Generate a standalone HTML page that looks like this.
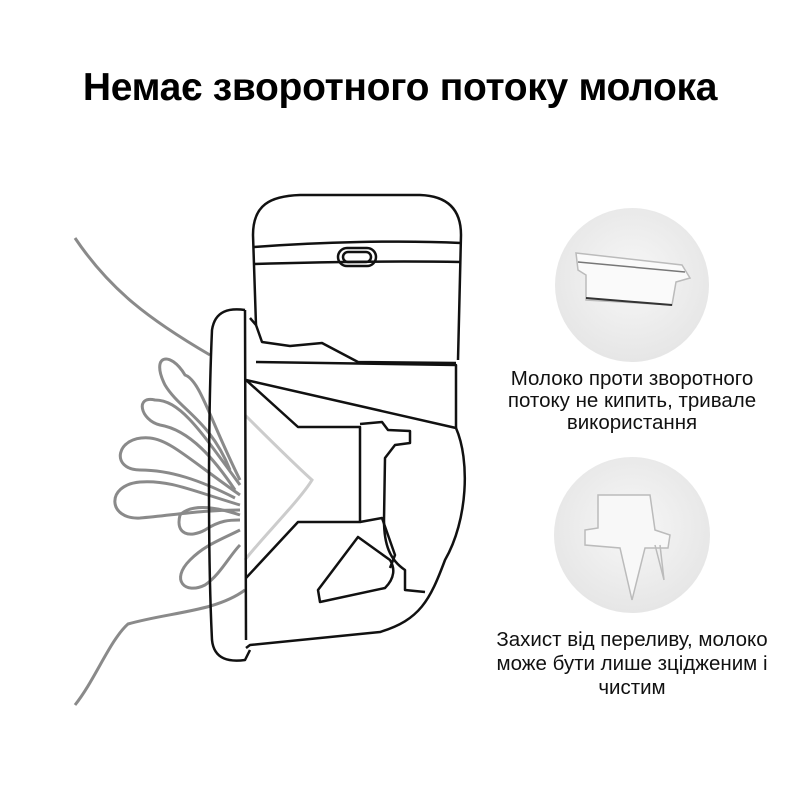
<!DOCTYPE html>
<html><head><meta charset="utf-8"><style>
html,body{margin:0;padding:0;background:#fff;width:800px;height:800px;overflow:hidden;position:relative;font-family:"Liberation Sans",Arial,sans-serif}
.t{position:absolute;left:0;width:800px;top:66px;text-align:center;font-size:39px;font-weight:bold;color:#000;letter-spacing:-0.3px}
.c{position:absolute;text-align:center;font-size:20.5px;color:#111;width:320px;left:472px}
svg{position:absolute;left:0;top:0}
</style></head><body>
<div class="t">Немає зворотного потоку молока</div>
<svg width="800" height="800" viewBox="0 0 800 800">
<defs>
<radialGradient id="g" cx="50%" cy="45%" r="55%"><stop offset="0" stop-color="#f7f7f7"/><stop offset="1" stop-color="#e6e6e6"/></radialGradient>
</defs>
<circle cx="632" cy="285" r="77" fill="url(#g)"/>
<circle cx="632" cy="535" r="78" fill="url(#g)"/>
<path d="M576 253 L682 265 L690 278 L676 282 L672 305 L586 300 L586 275 L578 270 Z" fill="#fafafa" stroke="#bbb" stroke-width="1.5"/>
<line x1="586" y1="298" x2="672" y2="305" stroke="#333" stroke-width="2"/>
<line x1="578" y1="262" x2="685" y2="272" stroke="#777" stroke-width="1.5"/>
<path d="M598 495 L650 495 L655 530 L670 535 L668 548 L645 548 L632 600 L620 548 L585 545 L585 530 L598 528 Z" fill="#f8f8f8" stroke="#bbb" stroke-width="1.5"/>
<path d="M655 545 L664 580 L660 545" fill="none" stroke="#bbb" stroke-width="1.5"/>
<g fill="none" stroke="#8a8a8a" stroke-width="3">
<path d="M75 238 C110 290 150 320 210 355"/>
<path d="M75 705 C95 680 110 640 128 624 C170 612 215 612 245 590"/>
<path d="M245 415 C270 440 290 460 312 480 C300 500 260 540 245 560" stroke="#ccc"/>
<path d="M240 480 C210 420 200 380 185 375 C170 350 150 355 165 385 C180 410 210 420 230 470"/>
<path d="M240 485 C200 430 180 400 155 400 C135 395 140 420 160 425 C190 430 215 460 235 490"/>
<path d="M240 495 C190 460 170 440 150 438 C115 435 110 470 140 470 C170 470 200 480 235 498"/>
<path d="M240 505 C190 490 170 480 140 482 C105 485 108 520 140 518 C175 515 200 510 240 510"/>
<path d="M240 515 C210 505 190 505 180 515 C175 535 190 538 205 530 C220 520 230 520 240 520"/>
<path d="M240 530 C220 540 205 545 190 560 C170 580 185 595 205 585 C220 575 230 555 240 545"/>
</g>
<g fill="none" stroke="#111" stroke-width="2.5" stroke-linejoin="round">
<path d="M256 325 L253 235 C253 205 270 196 300 195 L420 195 C450 196 461 212 461 235 L458 360"/>
<path d="M254 247 C320 242 400 240 461 243"/>
<path d="M254 264 C320 262 400 261 461 262"/>
<rect x="338" y="248" width="38" height="18" rx="9"/>
<rect x="343" y="252" width="28" height="10" rx="5"/>
<path d="M245 310 C230 308 215 310 212 330 C208 420 208 560 212 640 C214 660 230 662 245 660 L250 650"/>
<path d="M245 310 L246 640 M250 318 L256 325 L262 342 L290 346 L322 343 L358 362 L456 363"/>
<path d="M256 362 L456 365 L456 428"/>
<path d="M246 380 L456 428 C470 460 468 520 445 560 C430 600 420 620 380 632 L250 645 L246 648"/>
<path d="M246 380 L298 427 L360 427 L360 522 L298 522 L246 578"/>
<path d="M360 424 L382 422 L388 430 L410 431 L410 443 L395 445 L385 458 L384 520 C384 545 390 560 405 570 L405 590 L425 592"/>
<path d="M360 522 L382 518 L395 555 L390 568"/>
<path d="M358 537 L318 590 L320 602 L385 588 C395 578 395 568 390 560 Z"/>
</g>
</svg>
<div class="c" style="top:368px;line-height:22px">Молоко проти зворотного<br>потоку не кипить, тривале<br>використання</div>
<div class="c" style="top:628px;line-height:24px">Захист від переливу, молоко<br>може бути лише зцідженим і<br>чистим</div>
</body></html>
